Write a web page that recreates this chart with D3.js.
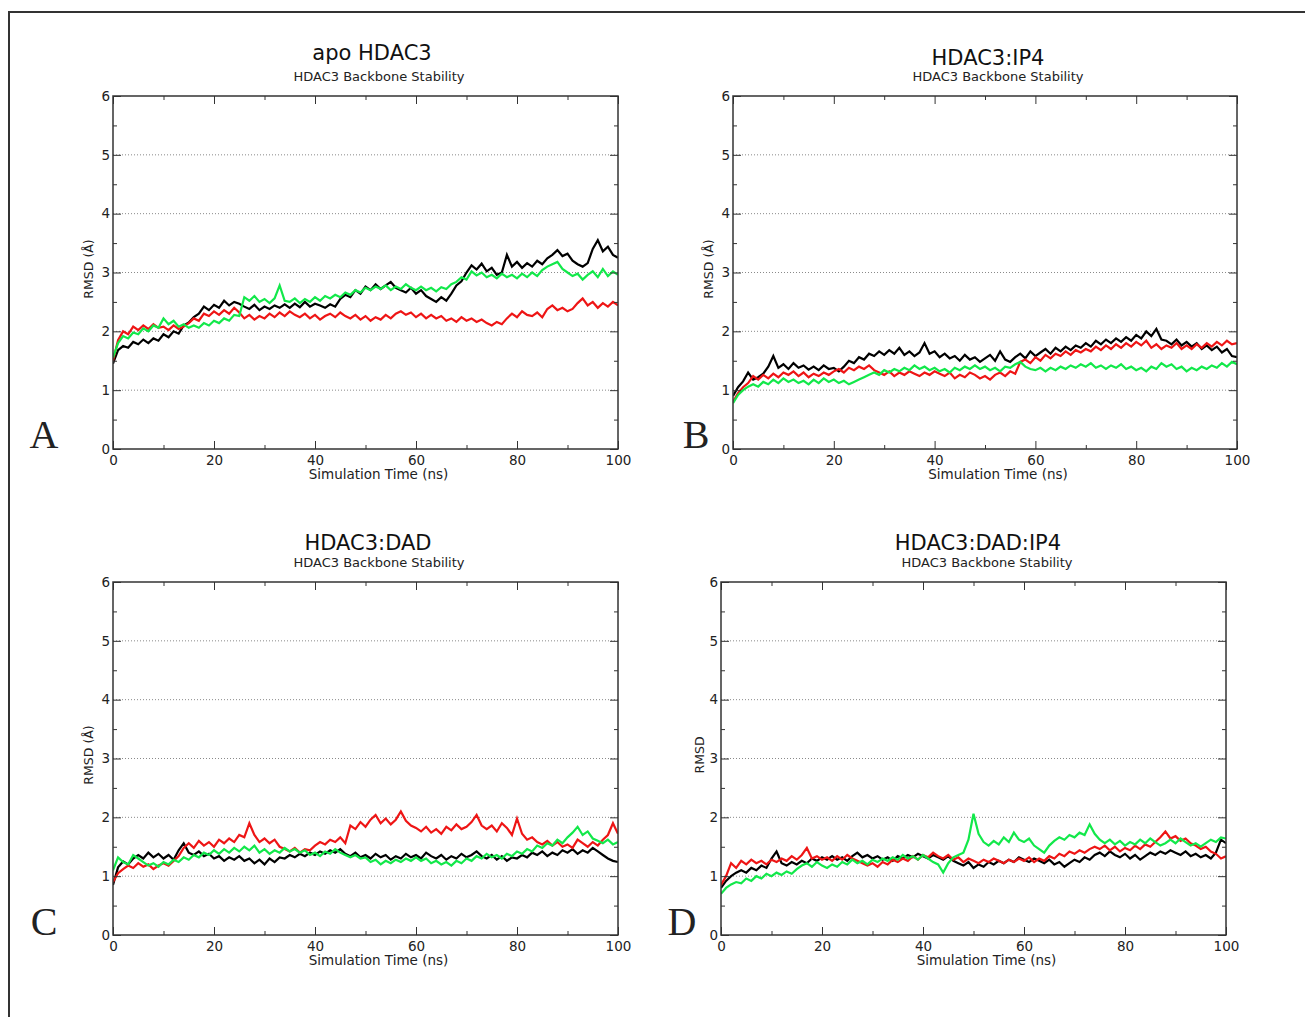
<!DOCTYPE html>
<html>
<head>
<meta charset="utf-8">
<script src="https://cdn.jsdelivr.net/npm/d3@7"></script>
<style>
body { margin: 0; background: #fff; }
svg { display: block; font-family: "DejaVu Sans", sans-serif; }
.letter { font-family: "Liberation Serif", serif; }
</style>
</head>
<body>
<svg id="chart" width="1305" height="1017"></svg>
<script>
// sampling time of each RMSD value (ns)
const timeNs = d3.range(0, 101);

const panelTitles = ["apo HDAC3", "HDAC3:IP4", "HDAC3:DAD", "HDAC3:DAD:IP4"];
const panelLetters = ["A", "B", "C", "D"];
const yLabels = ["RMSD (Å)", "RMSD (Å)", "RMSD (Å)", "RMSD"];
const subTitle = "HDAC3 Backbone Stability";
const xLabel = "Simulation Time (ns)";
const xTicks = [0, 20, 40, 60, 80, 100];
const xMinor = [10, 30, 50, 70, 90];
const yTicks = [0, 1, 2, 3, 4, 5, 6];
const yMinor = [0.5, 1.5, 2.5, 3.5, 4.5, 5.5];
const yGrid = [1, 2, 3, 4, 5];
const seriesColors = ["#000000", "#ee1515", "#12e84a"];  // black, red, green

// panel A: apo HDAC3
const aBlack = [1.45,1.68,1.75,1.72,1.82,1.78,1.86,1.80,1.88,1.84,1.95,1.90,2.00,1.96,2.10,2.15,2.24,2.30,2.42,2.36,
  2.45,2.40,2.52,2.44,2.50,2.47,2.42,2.38,2.45,2.36,2.42,2.38,2.44,2.40,2.46,2.40,2.47,2.41,2.50,2.42,
  2.47,2.44,2.40,2.46,2.42,2.55,2.62,2.58,2.70,2.64,2.76,2.70,2.80,2.72,2.78,2.84,2.74,2.70,2.66,2.74,
  2.64,2.70,2.60,2.55,2.50,2.58,2.52,2.64,2.78,2.85,3.00,3.12,3.05,3.15,3.02,3.08,2.96,3.00,3.30,3.10,
  3.18,3.08,3.16,3.10,3.20,3.14,3.24,3.30,3.38,3.28,3.32,3.20,3.14,3.10,3.16,3.40,3.55,3.36,3.44,3.30,3.25];
const aRed = [1.50,1.85,2.00,1.95,2.08,2.02,2.10,2.04,2.12,2.06,2.08,2.02,2.10,2.04,2.08,2.14,2.22,2.18,2.30,2.26,
  2.34,2.28,2.36,2.30,2.40,2.32,2.22,2.28,2.20,2.26,2.22,2.30,2.24,2.32,2.26,2.34,2.28,2.24,2.30,2.22,
  2.28,2.20,2.26,2.30,2.24,2.32,2.26,2.22,2.28,2.20,2.26,2.18,2.24,2.20,2.28,2.22,2.30,2.34,2.28,2.32,
  2.24,2.30,2.22,2.28,2.22,2.26,2.18,2.22,2.16,2.24,2.18,2.22,2.16,2.20,2.14,2.10,2.16,2.12,2.22,2.30,
  2.24,2.34,2.28,2.26,2.32,2.24,2.38,2.44,2.36,2.40,2.34,2.38,2.48,2.56,2.44,2.50,2.40,2.48,2.42,2.50,2.44];
const aGreen = [1.55,1.80,1.92,1.88,1.98,1.95,2.05,2.00,2.10,2.06,2.22,2.12,2.18,2.08,2.12,2.06,2.10,2.06,2.14,2.10,
  2.18,2.14,2.22,2.18,2.28,2.26,2.58,2.52,2.60,2.50,2.55,2.48,2.56,2.78,2.52,2.50,2.56,2.48,2.55,2.50,
  2.58,2.52,2.60,2.56,2.62,2.58,2.66,2.62,2.70,2.66,2.74,2.70,2.76,2.72,2.78,2.70,2.76,2.72,2.80,2.74,
  2.70,2.76,2.70,2.74,2.68,2.75,2.72,2.80,2.84,2.92,2.88,3.02,2.95,3.00,2.92,2.96,2.90,2.98,2.92,2.96,
  2.90,2.98,2.92,3.00,2.94,3.04,3.10,3.14,3.18,3.06,3.00,2.94,2.98,2.88,2.96,3.02,2.92,3.06,2.94,3.02,2.96];

// panel B: HDAC3:IP4
const bBlack = [0.90,1.05,1.15,1.30,1.18,1.22,1.28,1.40,1.58,1.38,1.44,1.36,1.46,1.38,1.42,1.35,1.40,1.34,1.42,1.36,
  1.38,1.32,1.40,1.50,1.46,1.56,1.52,1.62,1.58,1.66,1.60,1.68,1.62,1.72,1.60,1.66,1.58,1.64,1.80,1.62,
  1.66,1.56,1.62,1.54,1.58,1.50,1.60,1.52,1.56,1.48,1.54,1.60,1.50,1.66,1.52,1.48,1.56,1.62,1.54,1.66,
  1.58,1.64,1.70,1.62,1.72,1.66,1.74,1.68,1.76,1.72,1.80,1.74,1.84,1.78,1.86,1.80,1.88,1.82,1.90,1.84,
  1.94,1.88,2.00,1.92,2.04,1.86,1.84,1.78,1.86,1.76,1.82,1.74,1.80,1.70,1.76,1.68,1.74,1.64,1.70,1.58,1.56];
const bRed = [0.80,0.95,1.05,1.12,1.24,1.18,1.26,1.20,1.28,1.22,1.30,1.26,1.32,1.24,1.30,1.22,1.28,1.24,1.30,1.26,
  1.32,1.36,1.30,1.38,1.34,1.40,1.36,1.42,1.34,1.30,1.26,1.32,1.24,1.30,1.26,1.32,1.28,1.24,1.30,1.26,
  1.32,1.28,1.24,1.30,1.20,1.26,1.22,1.30,1.26,1.20,1.24,1.18,1.26,1.30,1.24,1.32,1.28,1.48,1.52,1.46,
  1.56,1.50,1.60,1.54,1.62,1.58,1.66,1.60,1.68,1.64,1.70,1.66,1.74,1.68,1.76,1.70,1.78,1.72,1.80,1.74,
  1.82,1.76,1.84,1.72,1.78,1.70,1.76,1.72,1.80,1.70,1.76,1.70,1.78,1.72,1.80,1.74,1.82,1.76,1.84,1.78,1.80];
const bGreen = [0.78,0.92,1.00,1.06,1.10,1.06,1.14,1.10,1.18,1.12,1.20,1.14,1.18,1.12,1.16,1.10,1.18,1.12,1.20,1.14,
  1.18,1.12,1.16,1.10,1.14,1.18,1.22,1.26,1.30,1.26,1.34,1.30,1.36,1.32,1.38,1.34,1.42,1.36,1.40,1.34,
  1.38,1.32,1.36,1.30,1.38,1.34,1.40,1.36,1.42,1.36,1.40,1.34,1.38,1.32,1.40,1.38,1.44,1.48,1.40,1.36,
  1.34,1.38,1.32,1.38,1.34,1.40,1.36,1.42,1.38,1.44,1.40,1.46,1.38,1.42,1.36,1.42,1.38,1.44,1.36,1.40,
  1.34,1.38,1.32,1.40,1.36,1.46,1.40,1.44,1.36,1.40,1.32,1.38,1.34,1.40,1.36,1.42,1.38,1.46,1.40,1.48,1.44];

// panel C: HDAC3:DAD
const cBlack = [0.85,1.15,1.25,1.20,1.30,1.36,1.30,1.40,1.32,1.38,1.30,1.36,1.28,1.44,1.56,1.40,1.36,1.42,1.34,1.38,
  1.30,1.34,1.26,1.32,1.28,1.34,1.26,1.30,1.22,1.28,1.20,1.30,1.24,1.32,1.30,1.36,1.32,1.38,1.34,1.40,
  1.36,1.42,1.38,1.44,1.40,1.46,1.38,1.34,1.40,1.32,1.36,1.30,1.38,1.32,1.36,1.28,1.34,1.30,1.38,1.32,
  1.36,1.30,1.40,1.34,1.30,1.36,1.28,1.34,1.30,1.38,1.32,1.36,1.42,1.34,1.30,1.36,1.28,1.34,1.26,1.32,
  1.30,1.36,1.32,1.40,1.36,1.42,1.34,1.40,1.36,1.44,1.40,1.46,1.38,1.44,1.40,1.48,1.42,1.36,1.30,1.26,1.24];
const cRed = [0.90,1.05,1.12,1.18,1.14,1.22,1.16,1.20,1.12,1.18,1.22,1.18,1.26,1.34,1.48,1.56,1.48,1.60,1.52,1.58,
  1.50,1.62,1.56,1.64,1.58,1.70,1.66,1.90,1.70,1.58,1.64,1.56,1.62,1.50,1.46,1.42,1.48,1.40,1.46,1.44,
  1.52,1.58,1.54,1.62,1.58,1.66,1.56,1.86,1.80,1.92,1.84,1.96,2.04,1.90,1.98,1.88,1.96,2.10,1.94,1.86,
  1.82,1.76,1.84,1.74,1.80,1.72,1.84,1.78,1.88,1.80,1.84,1.92,2.04,1.86,1.80,1.86,1.76,1.90,1.82,1.70,
  1.98,1.72,1.62,1.66,1.58,1.54,1.60,1.52,1.58,1.50,1.54,1.48,1.62,1.56,1.50,1.58,1.52,1.62,1.70,1.90,1.72];
const cGreen = [1.10,1.32,1.24,1.20,1.36,1.30,1.24,1.18,1.22,1.16,1.24,1.20,1.28,1.24,1.32,1.28,1.36,1.32,1.40,1.36,
  1.44,1.38,1.46,1.40,1.48,1.42,1.50,1.44,1.52,1.40,1.46,1.38,1.44,1.40,1.48,1.42,1.46,1.40,1.44,1.36,
  1.40,1.34,1.42,1.38,1.46,1.40,1.36,1.32,1.36,1.30,1.32,1.24,1.28,1.20,1.26,1.22,1.28,1.24,1.30,1.26,
  1.32,1.26,1.30,1.22,1.26,1.20,1.24,1.18,1.26,1.22,1.30,1.26,1.34,1.30,1.38,1.32,1.36,1.30,1.38,1.34,
  1.42,1.38,1.46,1.42,1.52,1.48,1.56,1.52,1.62,1.56,1.66,1.74,1.84,1.70,1.76,1.64,1.60,1.56,1.62,1.54,1.58];

// panel D: HDAC3:DAD:IP4
const dBlack = [0.80,0.92,1.00,1.06,1.10,1.06,1.14,1.10,1.18,1.14,1.30,1.42,1.22,1.18,1.24,1.20,1.26,1.22,1.30,1.26,
  1.32,1.28,1.34,1.28,1.32,1.26,1.34,1.40,1.32,1.36,1.30,1.34,1.28,1.32,1.26,1.34,1.30,1.36,1.32,1.38,
  1.34,1.30,1.36,1.32,1.28,1.34,1.26,1.22,1.18,1.24,1.14,1.20,1.16,1.24,1.20,1.26,1.22,1.28,1.24,1.32,
  1.28,1.24,1.30,1.26,1.22,1.28,1.20,1.24,1.16,1.22,1.28,1.24,1.32,1.28,1.36,1.40,1.34,1.42,1.36,1.32,
  1.38,1.30,1.36,1.28,1.34,1.40,1.36,1.42,1.38,1.44,1.40,1.36,1.42,1.34,1.38,1.32,1.36,1.30,1.40,1.62,1.56];
const dRed = [0.85,1.00,1.22,1.14,1.26,1.20,1.28,1.22,1.26,1.20,1.28,1.24,1.30,1.26,1.34,1.28,1.36,1.48,1.30,1.34,
  1.28,1.32,1.26,1.34,1.28,1.36,1.30,1.26,1.22,1.18,1.22,1.16,1.24,1.20,1.28,1.24,1.30,1.26,1.34,1.28,
  1.36,1.32,1.40,1.34,1.30,1.36,1.28,1.32,1.24,1.30,1.26,1.22,1.28,1.24,1.30,1.26,1.22,1.28,1.24,1.30,
  1.26,1.32,1.24,1.30,1.26,1.34,1.30,1.38,1.34,1.42,1.38,1.44,1.40,1.46,1.50,1.46,1.52,1.44,1.50,1.42,
  1.48,1.44,1.52,1.46,1.54,1.50,1.58,1.66,1.76,1.64,1.68,1.60,1.64,1.56,1.52,1.46,1.50,1.42,1.38,1.30,1.34];
const dGreen = [0.70,0.80,0.86,0.90,0.88,0.96,0.92,1.00,0.96,1.04,1.00,1.06,1.02,1.08,1.04,1.12,1.18,1.22,1.16,1.24,
  1.18,1.14,1.20,1.16,1.24,1.20,1.28,1.22,1.26,1.20,1.28,1.24,1.30,1.26,1.32,1.28,1.36,1.30,1.34,1.28,
  1.36,1.30,1.24,1.20,1.06,1.22,1.32,1.36,1.40,1.62,2.06,1.72,1.58,1.52,1.60,1.54,1.66,1.58,1.74,1.62,
  1.58,1.64,1.52,1.46,1.40,1.52,1.60,1.66,1.62,1.70,1.66,1.74,1.70,1.88,1.72,1.62,1.56,1.62,1.54,1.60,
  1.52,1.58,1.54,1.62,1.56,1.64,1.58,1.52,1.56,1.62,1.56,1.64,1.58,1.52,1.56,1.50,1.56,1.62,1.58,1.66,1.64];

const panelSeries = [
  [aBlack, aRed, aGreen],
  [bBlack, bRed, bGreen],
  [cBlack, cRed, cGreen],
  [dBlack, dRed, dGreen]
];

// where each panel sits on the page
const layout = [
  {left: 113, top: 96, right: 618, bottom: 449, titleX: 372, titleY: 60, subX: 379, subY: 81, ylabX: 88, letterX: 44, letterY: 448},
  {left: 733, top: 96, right: 1237, bottom: 449, titleX: 988, titleY: 65, subX: 998, subY: 81, ylabX: 708, letterX: 696, letterY: 448},
  {left: 113, top: 582, right: 618, bottom: 935, titleX: 368, titleY: 550, subX: 379, subY: 567, ylabX: 88, letterX: 44, letterY: 935},
  {left: 721, top: 582, right: 1226, bottom: 935, titleX: 978, titleY: 550, subX: 987, subY: 567, ylabX: 699, letterX: 682, letterY: 935}
];

const svg = d3.select("#chart");

// outer frame of the figure (only top and left edges visible)
svg.append("path")
  .attr("d", "M9,1017V12H1305")
  .attr("fill", "none")
  .attr("stroke", "#333")
  .attr("stroke-width", 2);

function renderPanel(i) {
  const L = layout[i];
  const w = L.right - L.left, h = L.bottom - L.top;

  const x = d3.scaleLinear().domain([0, 100]).range([0, w]);
  const y = d3.scaleLinear().domain([0, 6]).range([h, 0]);

  const g = svg.append("g").attr("transform", "translate(" + L.left + "," + L.top + ")");

  // dotted grid lines
  g.selectAll("line.grid")
    .data(yGrid)
    .enter().append("line")
    .attr("class", "grid")
    .attr("x1", 0).attr("x2", w)
    .attr("y1", d => y(d)).attr("y2", d => y(d))
    .attr("stroke", "#8a8a8a")
    .attr("stroke-width", 1)
    .attr("stroke-dasharray", "1,2");

  // traces
  g.append("clipPath").attr("id", "clip" + i)
    .append("rect").attr("width", w).attr("height", h);

  const line = d3.line()
    .x((d, k) => x(timeNs[k]))
    .y(d => y(d));

  panelSeries[i].forEach((vals, s) => {
    g.append("path")
      .datum(vals)
      .attr("clip-path", "url(#clip" + i + ")")
      .attr("fill", "none")
      .attr("stroke", seriesColors[s])
      .attr("stroke-width", 2.2)
      .attr("stroke-linejoin", "miter")
      .attr("d", line);
  });

  // axes with ticks pointing inward
  const axisStyle = sel => {
    sel.select(".domain").remove();
    sel.selectAll("line").attr("stroke", "#333");
    sel.selectAll("text").attr("fill", "#222").attr("font-size", 13.5).attr("font-family", "DejaVu Sans");
  };

  g.append("g").attr("transform", "translate(0," + h + ")")
    .call(d3.axisBottom(x).tickValues(xTicks).tickSize(-8).tickPadding(6).tickFormat(d3.format("d")))
    .call(axisStyle);
  g.append("g").attr("transform", "translate(0," + h + ")")
    .call(d3.axisBottom(x).tickValues(xMinor).tickSize(-4).tickFormat(""))
    .call(axisStyle);
  g.append("g")
    .call(d3.axisTop(x).tickValues(xTicks).tickSize(-8).tickFormat(""))
    .call(axisStyle);
  g.append("g")
    .call(d3.axisTop(x).tickValues(xMinor).tickSize(-4).tickFormat(""))
    .call(axisStyle);

  g.append("g")
    .call(d3.axisLeft(y).tickValues(yTicks).tickSize(-8).tickPadding(3).tickFormat(d3.format("d")))
    .call(axisStyle);
  g.append("g")
    .call(d3.axisLeft(y).tickValues(yMinor).tickSize(-4).tickFormat(""))
    .call(axisStyle);
  g.append("g").attr("transform", "translate(" + w + ",0)")
    .call(d3.axisRight(y).tickValues(yTicks).tickSize(-8).tickFormat(""))
    .call(axisStyle);
  g.append("g").attr("transform", "translate(" + w + ",0)")
    .call(d3.axisRight(y).tickValues(yMinor).tickSize(-4).tickFormat(""))
    .call(axisStyle);

  // plot frame
  g.append("rect")
    .attr("width", w).attr("height", h)
    .attr("fill", "none")
    .attr("stroke", "#333")
    .attr("stroke-width", 1.5);

  // titles
  svg.append("text")
    .attr("x", L.titleX).attr("y", L.titleY)
    .attr("text-anchor", "middle")
    .attr("font-size", 21)
    .attr("fill", "#111")
    .text(panelTitles[i]);
  svg.append("text")
    .attr("x", L.subX).attr("y", L.subY)
    .attr("text-anchor", "middle")
    .attr("font-size", 13)
    .attr("fill", "#222")
    .text(subTitle);

  // axis labels
  svg.append("text")
    .attr("x", L.left + w / 2 + 13).attr("y", L.bottom + 30)
    .attr("text-anchor", "middle")
    .attr("font-size", 13.5)
    .attr("fill", "#222")
    .text(xLabel);
  svg.append("text")
    .attr("transform", "translate(" + (L.ylabX + 5) + "," + (L.top + h * 0.49) + ") rotate(-90)")
    .attr("text-anchor", "middle")
    .attr("font-size", 12.5)
    .attr("fill", "#222")
    .text(yLabels[i]);

  // panel letter
  svg.append("text")
    .attr("class", "letter")
    .attr("x", L.letterX).attr("y", L.letterY)
    .attr("text-anchor", "middle")
    .attr("font-size", 40)
    .attr("fill", "#222")
    .text(panelLetters[i]);
}

panelTitles.forEach((t, i) => renderPanel(i));
</script>
</body>
</html>
